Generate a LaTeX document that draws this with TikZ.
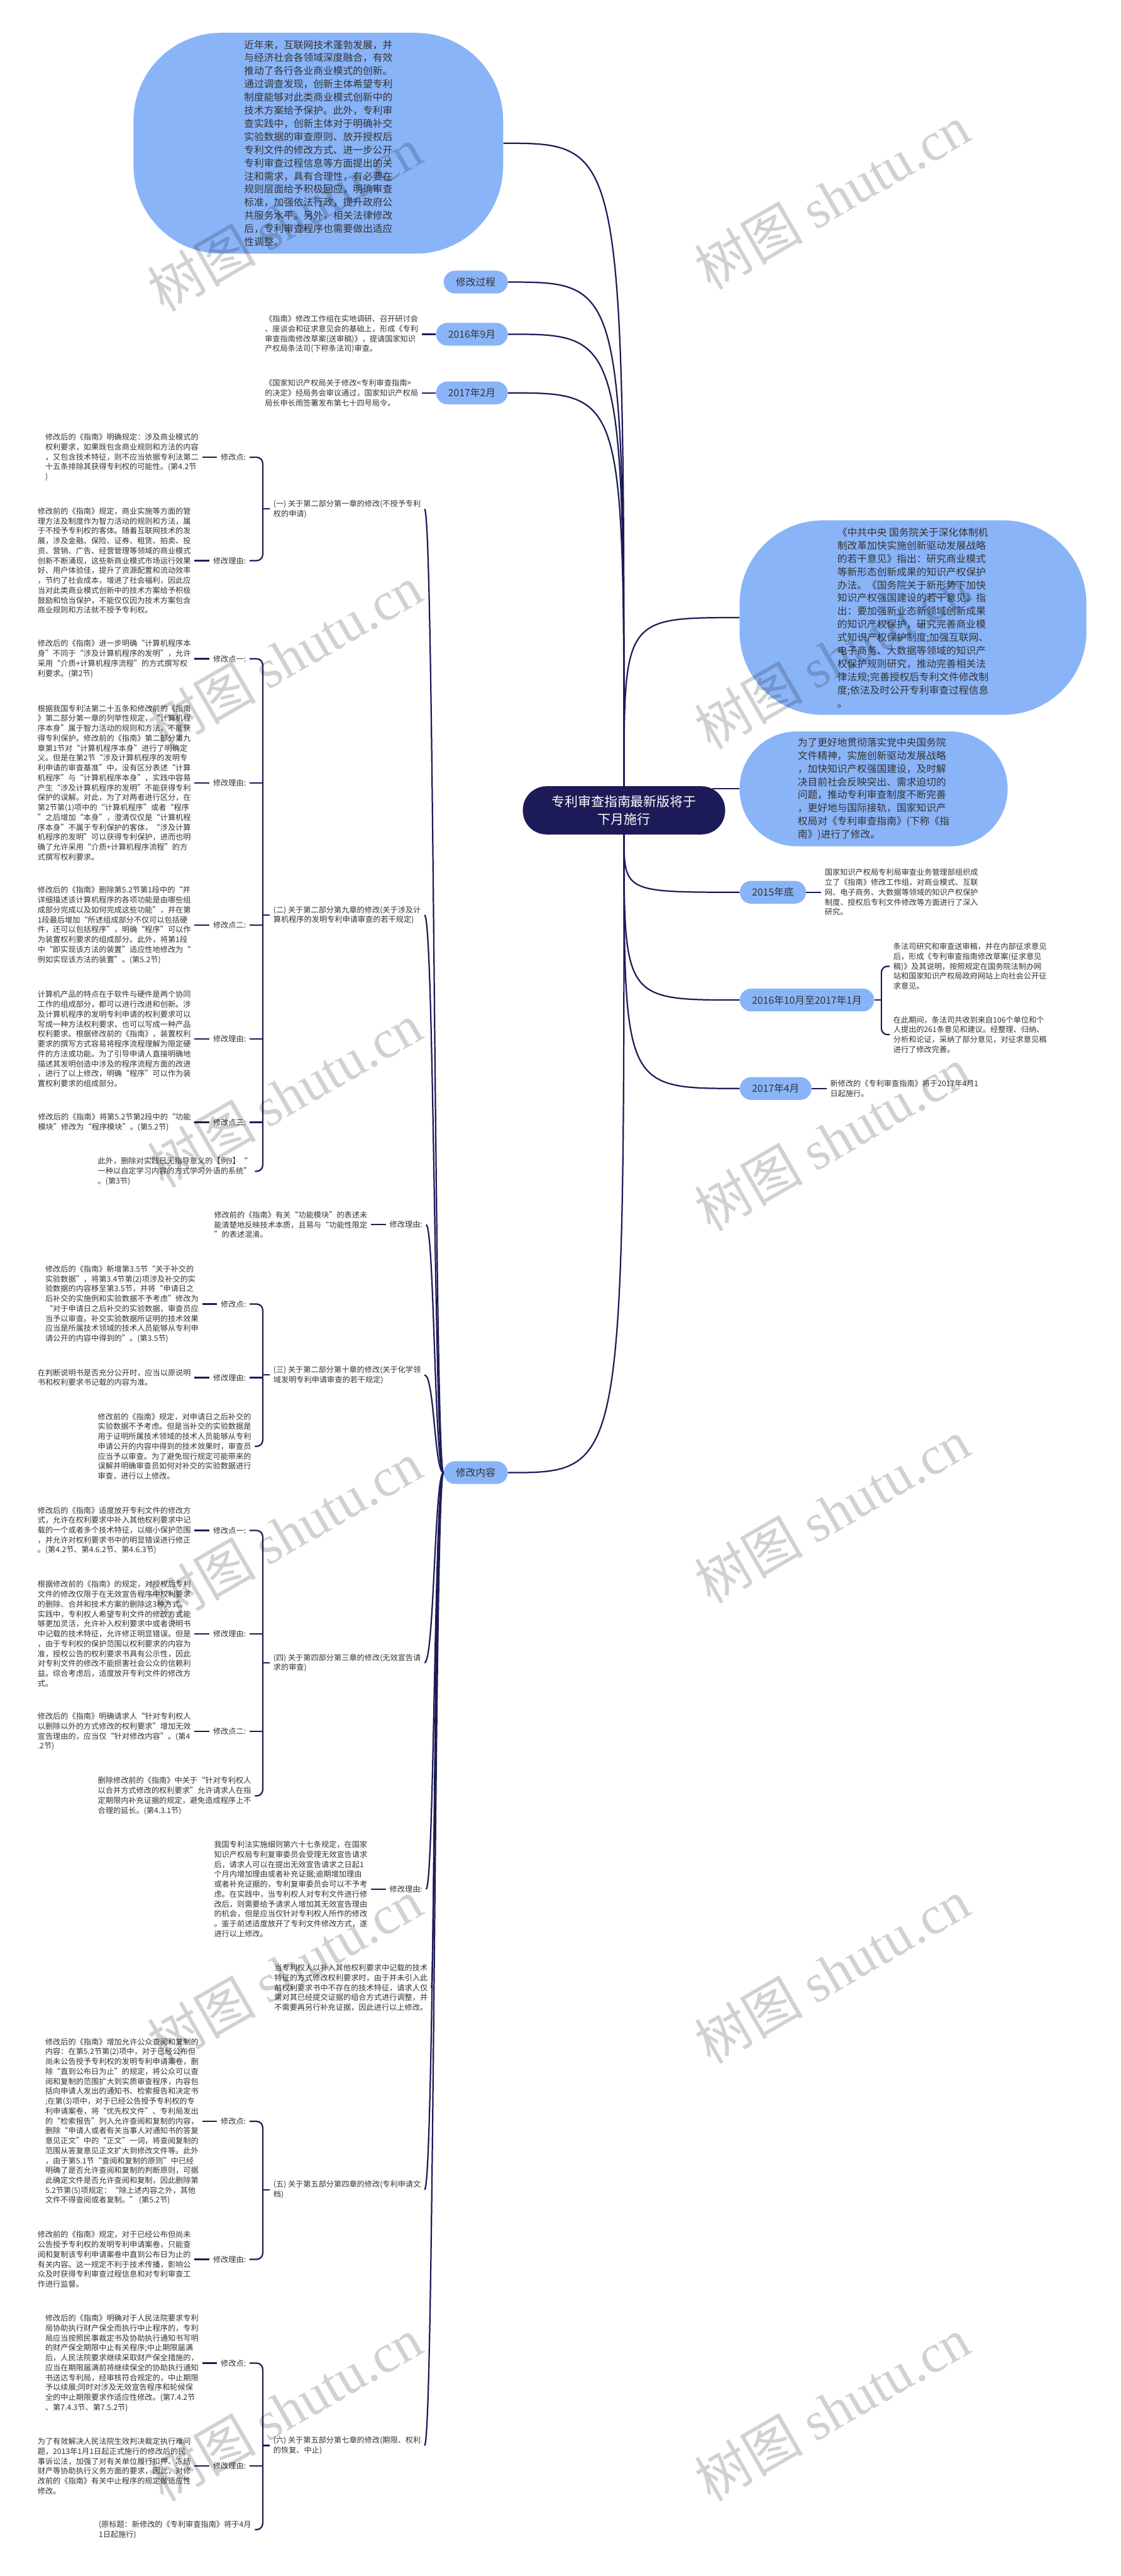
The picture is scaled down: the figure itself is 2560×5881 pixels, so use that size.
\documentclass[tikz,border=0pt]{standalone}
\usepackage{fontspec}
\setmainfont{Noto Sans CJK SC}
\newfontfamily\wmserif{Liberation Serif}
\usetikzlibrary{calc}
\definecolor{navyink}{RGB}{29,27,87}
\definecolor{skyfill}{RGB}{138,180,248}
\definecolor{textgray}{RGB}{51,51,51}
\tikzset{
  link/.style={draw=navyink, line width=1.6pt},
  rootbox/.style={fill=navyink, text=white, rounded corners=27pt, minimum width=231pt, minimum height=55pt, align=center, font=\fontsize{15}{20}\selectfont},
  topicbox/.style={fill=skyfill, text=textgray, rounded corners=13pt, minimum height=26pt, inner xsep=14pt, inner ysep=2pt, font=\fontsize{11.3}{14}\selectfont},
  blobbox/.style={fill=skyfill, text=textgray, align=left, font=\fontsize{11.3}{15}\selectfont},
  notebox/.style={text=textgray, align=left, inner sep=4pt, font=\fontsize{8.75}{11.3}\selectfont},
  tagbox/.style={text=textgray, align=left, inner sep=4pt, font=\fontsize{8.75}{11.3}\selectfont},
  wmtext/.style={rotate=30, text=black, text opacity=0.18, font=\fontsize{62}{62}\selectfont}
}
\begin{document}
\begin{tikzpicture}[x=0.5pt, y=-0.5pt]
\fill[white] (0,0) rectangle (2560,5881);
\useasboundingbox (0,0) rectangle (2560,5881);

% Root
\node[rootbox] (ctr) at (1425,1850) {专利审查指南最新版将于\\下月施行};
\coordinate (ctrR) at (1627,1801);

% Left upper branches
\node[blobbox, minimum width=422pt, minimum height=252pt, rounded corners=100pt] (bl) at (727,327) {近年来，互联网技术蓬勃发展，并\\与经济社会各领域深度融合，有效\\推动了各行各业商业模式的创新。\\通过调查发现，创新主体希望专利\\制度能够对此类商业模式创新中的\\技术方案给予保护。此外，专利审\\查实践中，创新主体对于明确补交\\实验数据的审查原则、放开授权后\\专利文件的修改方式、进一步公开\\专利审查过程信息等方面提出的关\\注和需求，具有合理性，有必要在\\规则层面给予积极回应，明确审查\\标准，加强依法行政，提升政府公\\共服务水平。另外，相关法律修改\\后，专利审查程序也需要做出适应\\性调整。};
\node[topicbox, anchor=east] (p1) at (1160,644) {修改过程};
\node[topicbox, anchor=east] (p2) at (1160,763) {2016年9月};
\node[topicbox, anchor=east] (p3) at (1160,897) {2017年2月};
\node[notebox, anchor=east] (p2t) at ([xshift=-16pt]p2.west) {《指南》修改工作组在实地调研、召开研讨会\\、座谈会和征求意见会的基础上，形成《专利\\审查指南修改草案(送审稿)》，提请国家知识\\产权局条法司(下称条法司)审查。};
\node[notebox, anchor=east] (p3t) at ([xshift=-16pt]p3.west) {《国家知识产权局关于修改<专利审查指南>\\的决定》经局务会审议通过，国家知识产权局\\局长申长雨签署发布第七十四号局令。};
\draw[link] (p2t.east) -- (p2.west);
\draw[link] (p3t.east) -- (p3.west);

% Right branches
\node[blobbox, minimum width=396pt, minimum height=222pt, rounded corners=95pt] (r1) at (2085,1410) {《中共中央 国务院关于深化体制机\\制改革加快实施创新驱动发展战略\\的若干意见》指出：研究商业模式\\等新形态创新成果的知识产权保护\\办法。《国务院关于新形势下加快\\知识产权强国建设的若干意见》指\\出：要加强新业态新领域创新成果\\的知识产权保护，研究完善商业模\\式知识产权保护制度;加强互联网、\\电子商务、大数据等领域的知识产\\权保护规则研究，推动完善相关法\\律法规;完善授权后专利文件修改制\\度;依法及时公开专利审查过程信息\\。};
\node[blobbox, minimum width=306pt, minimum height=131pt, rounded corners=65pt] (r2) at (1995,1801) {为了更好地贯彻落实党中央国务院\\文件精神，实施创新驱动发展战略\\，加快知识产权强国建设，及时解\\决目前社会反映突出、需求迫切的\\问题，推动专利审查制度不断完善\\，更好地与国际接轨，国家知识产\\权局对《专利审查指南》(下称《指\\南》)进行了修改。};
\node[topicbox, anchor=west] (q1) at (1689,2037) {2015年底};
\node[topicbox, anchor=west] (q2) at (1689,2283) {2016年10月至2017年1月};
\node[topicbox, anchor=west] (q3) at (1689,2485) {2017年4月};
\node[notebox, anchor=west] (q1t) at ([xshift=17pt]q1.east) {国家知识产权局专利局审查业务管理部组织成\\立了《指南》修改工作组，对商业模式、互联\\网、电子商务、大数据等领域的知识产权保护\\制度、授权后专利文件修改等方面进行了深入\\研究。};
\node[notebox, anchor=west] (q2a) at ($(q2.east)+(35,-77)$) {条法司研究和审查送审稿，并在内部征求意见\\后，形成《专利审查指南修改草案(征求意见\\稿)》及其说明，按照规定在国务院法制办网\\站和国家知识产权局政府网站上向社会公开征\\求意见。};
\node[notebox, anchor=west] (q2b) at ($(q2.east)+(35,79)$) {在此期间，条法司共收到来自106个单位和个\\人提出的261条意见和建议。经整理、归纳、\\分析和论证，采纳了部分意见，对征求意见稿\\进行了修改完善。};
\node[notebox, anchor=west] (q3t) at ([xshift=17pt]q3.east) {新修改的《专利审查指南》将于2017年4月1\\日起施行。};
\coordinate (bq) at ($(q2.east)+(16,0)$);
\draw[link] (q1.east) -- (q1t.west);
\draw[link] (q3.east) -- (q3t.west);
\draw[link] (q2.east) -- (bq);
\draw[link, rounded corners=7pt] (q2a.west) -| (bq) |- (q2b.west);

% Root connectors
\draw[link] (ctr.north) .. controls (ctr.north |- bl.east) .. (bl.east);
\draw[link] (ctr.north) .. controls (ctr.north |- p1.east) .. (p1.east);
\draw[link] (ctr.north) .. controls (ctr.north |- p2.east) .. (p2.east);
\draw[link] (ctr.north) .. controls (ctr.north |- p3.east) .. (p3.east);
\draw[link] (ctr.north) .. controls (ctr.north |- r1.west) .. (r1.west);
\draw[link] (ctrR) -- (r2.west);
\draw[link] (ctr.south) .. controls (ctr.south |- q1.west) .. (q1.west);
\draw[link] (ctr.south) .. controls (ctr.south |- q2.west) .. (q2.west);
\draw[link] (ctr.south) .. controls (ctr.south |- q3.west) .. (q3.west);

% Modification content
\node[topicbox, anchor=east] (mc) at (1160,3362) {修改内容};
\draw[link] (ctr.south) .. controls (ctr.south |- mc.east) .. (mc.east);

\node[tagbox, anchor=west] (s1) at (616,1162) {(一) 关于第二部分第一章的修改(不授予专利\\权的申请)};
\node[tagbox, anchor=west] (s2) at (616,2089) {(二) 关于第二部分第九章的修改(关于涉及计\\算机程序的发明专利申请审查的若干规定)};
\node[tagbox, anchor=west] (s3) at (616,3139) {(三) 关于第二部分第十章的修改(关于化学领\\域发明专利申请审查的若干规定)};
\node[tagbox, anchor=west] (s4) at (616,3796) {(四) 关于第四部分第三章的修改(无效宣告请\\求的审查)};
\node[tagbox, anchor=west] (s5) at (616,4999) {(五) 关于第五部分第四章的修改(专利申请文\\档)};
\node[tagbox, anchor=west] (s6) at (616,5583) {(六) 关于第五部分第七章的修改(期限、权利\\的恢复、中止)};

\node[tagbox, anchor=east] (m1) at (973,2796) {修改理由:};
\node[notebox, anchor=east] (m1t) at ([xshift=-17pt]m1.west) {修改前的《指南》有关“功能模块”的表述未\\能清楚地反映技术本质，且易与“功能性限定\\”的表述混淆。};
\node[tagbox, anchor=east] (m2) at (973,4313) {修改理由:};
\node[notebox, anchor=east] (m2t) at ([xshift=-17pt]m2.west) {我国专利法实施细则第六十七条规定，在国家\\知识产权局专利复审委员会受理无效宣告请求\\后，请求人可以在提出无效宣告请求之日起1\\个月内增加理由或者补充证据;逾期增加理由\\或者补充证据的，专利复审委员会可以不予考\\虑。在实践中，当专利权人对专利文件进行修\\改后，则需要给予请求人增加其无效宣告理由\\的机会，但是应当仅针对专利权人所作的修改\\。鉴于前述适度放开了专利文件修改方式，遂\\进行以上修改。};
\node[notebox, anchor=east] (m3) at (985,4538) {当专利权人以补入其他权利要求中记载的技术\\特征的方式修改权利要求时，由于并未引入此\\前权利要求书中不存在的技术特征，请求人仅\\需对其已经提交证据的组合方式进行调整，并\\不需要再另行补充证据，因此进行以上修改。};
\draw[link] (m1t.east) -- (m1.west);
\draw[link] (m2t.east) -- (m2.west);

\coordinate (sx) at (992,0);
\foreach \s in {s1,s2,m1,s3,s4,m2,m3,s5,s6}
  \draw[link] (mc.west) .. controls (mc.west -| sx) and (sx |- \s.east) .. (\s.east);

% (一)
\node[tagbox, anchor=east] (k11) at (570,1044) {修改点:};
\node[notebox, anchor=east] (n11) at ([xshift=-17pt]k11.west) {修改后的《指南》明确规定：涉及商业模式的\\权利要求，如果既包含商业规则和方法的内容\\，又包含技术特征，则不应当依据专利法第二\\十五条排除其获得专利权的可能性。(第4.2节\\)};
\node[tagbox, anchor=east] (k12) at (570,1280) {修改理由:};
\node[notebox, anchor=east] (n12) at ([xshift=-17pt]k12.west) {修改前的《指南》规定，商业实施等方面的管\\理方法及制度作为智力活动的规则和方法，属\\于不授予专利权的客体。随着互联网技术的发\\展，涉及金融、保险、证券、租赁、拍卖、投\\资、营销、广告、经营管理等领域的商业模式\\创新不断涌现，这些新商业模式市场运行效果\\好、用户体验佳，提升了资源配置和流动效率\\，节约了社会成本，增进了社会福利，因此应\\当对此类商业模式创新中的技术方案给予积极\\鼓励和恰当保护，不能仅仅因为技术方案包含\\商业规则和方法就不授予专利权。};

% (二)
\node[tagbox, anchor=east] (k21) at (570,1504) {修改点一:};
\node[notebox, anchor=east] (n21) at ([xshift=-17pt]k21.west) {修改后的《指南》进一步明确“计算机程序本\\身”不同于“涉及计算机程序的发明”，允许\\采用“介质+计算机程序流程”的方式撰写权\\利要求。(第2节)};
\node[tagbox, anchor=east] (k22) at (570,1787) {修改理由:};
\node[notebox, anchor=east] (n22) at ([xshift=-17pt]k22.west) {根据我国专利法第二十五条和修改前的《指南\\》第二部分第一章的列举性规定，“计算机程\\序本身”属于智力活动的规则和方法，不能获\\得专利保护。修改前的《指南》第二部分第九\\章第1节对“计算机程序本身”进行了明确定\\义。但是在第2节“涉及计算机程序的发明专\\利申请的审查基准”中，没有区分表述“计算\\机程序”与“计算机程序本身”，实践中容易\\产生“涉及计算机程序的发明”不能获得专利\\保护的误解。对此，为了对两者进行区分，在\\第2节第(1)项中的“计算机程序”或者“程序\\”之后增加“本身”，澄清仅仅是“计算机程\\序本身”不属于专利保护的客体，“涉及计算\\机程序的发明”可以获得专利保护，进而也明\\确了允许采用“介质+计算机程序流程”的方\\式撰写权利要求。};
\node[tagbox, anchor=east] (k23) at (570,2112) {修改点二:};
\node[notebox, anchor=east] (n23) at ([xshift=-17pt]k23.west) {修改后的《指南》删除第5.2节第1段中的“并\\详细描述该计算机程序的各项功能是由哪些组\\成部分完成以及如何完成这些功能”，并在第\\1段最后增加“所述组成部分不仅可以包括硬\\件，还可以包括程序”，明确“程序”可以作\\为装置权利要求的组成部分。此外，将第1段\\中“即实现该方法的装置”适应性地修改为“\\例如实现该方法的装置”。(第5.2节)};
\node[tagbox, anchor=east] (k24) at (570,2372) {修改理由:};
\node[notebox, anchor=east] (n24) at ([xshift=-17pt]k24.west) {计算机产品的特点在于软件与硬件是两个协同\\工作的组成部分，都可以进行改进和创新。涉\\及计算机程序的发明专利申请的权利要求可以\\写成一种方法权利要求，也可以写成一种产品\\权利要求。根据修改前的《指南》，装置权利\\要求的撰写方式容易将程序流程理解为限定硬\\件的方法或功能。为了引导申请人直接明确地\\描述其发明创造中涉及的程序流程方面的改进\\，进行了以上修改，明确“程序”可以作为装\\置权利要求的组成部分。};
\node[tagbox, anchor=east] (k25) at (570,2562) {修改点三:};
\node[notebox, anchor=east] (n25) at ([xshift=-17pt]k25.west) {修改后的《指南》将第5.2节第2段中的“功能\\模块”修改为“程序模块”。(第5.2节)};
\node[notebox, anchor=east] (k26) at (582,2674) {此外，删除对实践已无指导意义的【例9】“\\一种以自定学习内容的方式学习外语的系统”\\。(第3节)};

% (三)
\node[tagbox, anchor=east] (k31) at (570,2977) {修改点:};
\node[notebox, anchor=east] (n31) at ([xshift=-17pt]k31.west) {修改后的《指南》新增第3.5节“关于补交的\\实验数据”，将第3.4节第(2)项涉及补交的实\\验数据的内容移至第3.5节，并将“申请日之\\后补交的实施例和实验数据不予考虑”修改为\\“对于申请日之后补交的实验数据，审查员应\\当予以审查。补交实验数据所证明的技术效果\\应当是所属技术领域的技术人员能够从专利申\\请公开的内容中得到的”。(第3.5节)};
\node[tagbox, anchor=east] (k32) at (570,3145) {修改理由:};
\node[notebox, anchor=east] (n32) at ([xshift=-17pt]k32.west) {在判断说明书是否充分公开时，应当以原说明\\书和权利要求书记载的内容为准。};
\node[notebox, anchor=east] (k33) at (582,3302) {修改前的《指南》规定，对申请日之后补交的\\实验数据不予考虑。但是当补交的实验数据是\\用于证明所属技术领域的技术人员能够从专利\\申请公开的内容中得到的技术效果时，审查员\\应当予以审查。为了避免现行规定可能带来的\\误解并明确审查员如何对补交的实验数据进行\\审查，进行以上修改。};

% (四)
\node[tagbox, anchor=east] (k41) at (570,3494) {修改点一:};
\node[notebox, anchor=east] (n41) at ([xshift=-17pt]k41.west) {修改后的《指南》适度放开专利文件的修改方\\式，允许在权利要求中补入其他权利要求中记\\载的一个或者多个技术特征，以缩小保护范围\\，并允许对权利要求书中的明显错误进行修正\\。(第4.2节、第4.6.2节、第4.6.3节)};
\node[tagbox, anchor=east] (k42) at (570,3730) {修改理由:};
\node[notebox, anchor=east] (n42) at ([xshift=-17pt]k42.west) {根据修改前的《指南》的规定，对授权后专利\\文件的修改仅限于在无效宣告程序中权利要求\\的删除、合并和技术方案的删除这3种方式。\\实践中，专利权人希望专利文件的修改方式能\\够更加灵活，允许补入权利要求中或者说明书\\中记载的技术特征，允许修正明显错误。但是\\，由于专利权的保护范围以权利要求的内容为\\准，授权公告的权利要求书具有公示性，因此\\对专利文件的修改不能损害社会公众的信赖利\\益。综合考虑后，适度放开专利文件的修改方\\式。};
\node[tagbox, anchor=east] (k43) at (570,3953) {修改点二:};
\node[notebox, anchor=east] (n43) at ([xshift=-17pt]k43.west) {修改后的《指南》明确请求人“针对专利权人\\以删除以外的方式修改的权利要求”增加无效\\宣告理由的，应当仅“针对修改内容”。(第4\\.2节)};
\node[notebox, anchor=east] (k44) at (582,4100) {删除修改前的《指南》中关于“针对专利权人\\以合并方式修改的权利要求”允许请求人在指\\定期限内补充证据的规定，避免造成程序上不\\合理的延长。(第4.3.1节)};

% (五)
\node[tagbox, anchor=east] (k51) at (570,4843) {修改点:};
\node[notebox, anchor=east] (n51) at ([xshift=-17pt]k51.west) {修改后的《指南》增加允许公众查阅和复制的\\内容：在第5.2节第(2)项中，对于已经公布但\\尚未公告授予专利权的发明专利申请案卷，删\\除“直到公布日为止”的规定，将公众可以查\\阅和复制的范围扩大到实质审查程序，内容包\\括向申请人发出的通知书、检索报告和决定书\\;在第(3)项中，对于已经公告授予专利权的专\\利申请案卷，将“优先权文件”、专利局发出\\的“检索报告”列入允许查阅和复制的内容，\\删除“申请人或者有关当事人对通知书的答复\\意见正文”中的“正文”一词，将查阅复制的\\范围从答复意见正文扩大到修改文件等。此外\\，由于第5.1节“查阅和复制的原则”中已经\\明确了是否允许查阅和复制的判断原则，可据\\此确定文件是否允许查阅和复制，因此删除第\\5.2节第(5)项规定：“除上述内容之外，其他\\文件不得查阅或者复制。” (第5.2节)};
\node[tagbox, anchor=east] (k52) at (570,5158) {修改理由:};
\node[notebox, anchor=east] (n52) at ([xshift=-17pt]k52.west) {修改前的《指南》规定，对于已经公布但尚未\\公告授予专利权的发明专利申请案卷，只能查\\阅和复制该专利申请案卷中直到公布日为止的\\有关内容。这一规定不利于技术传播，影响公\\众及时获得专利审查过程信息和对专利审查工\\作进行监督。};

% (六)
\node[tagbox, anchor=east] (k61) at (570,5395) {修改点:};
\node[notebox, anchor=east] (n61) at ([xshift=-17pt]k61.west) {修改后的《指南》明确对于人民法院要求专利\\局协助执行财产保全而执行中止程序的，专利\\局应当按照民事裁定书及协助执行通知书写明\\的财产保全期限中止有关程序;中止期限届满\\后，人民法院要求继续采取财产保全措施的，\\应当在期限届满前将继续保全的协助执行通知\\书送达专利局，经审核符合规定的，中止期限\\予以续展;同时对涉及无效宣告程序和轮候保\\全的中止期限要求作适应性修改。(第7.4.2节\\、第7.4.3节、第7.5.2节)};
\node[tagbox, anchor=east] (k62) at (570,5630) {修改理由:};
\node[notebox, anchor=east] (n62) at ([xshift=-17pt]k62.west) {为了有效解决人民法院生效判决裁定执行难问\\题，2013年1月1日起正式施行的修改后的民\\事诉讼法，加强了对有关单位履行扣押、冻结\\财产等协助执行义务方面的要求，因此，对修\\改前的《指南》有关中止程序的规定做适应性\\修改。};
\node[notebox, anchor=east] (k63) at (582,5775) {(原标题：新修改的《专利审查指南》将于4月\\1日起施行)};

% text to tag links
\foreach \k in {11,12,21,22,23,24,25,31,32,41,42,43,51,52,61,62}
  \draw[link] (n\k.east) -- (k\k.west);

% brackets
\foreach \s in {1,...,6}
  \coordinate (b\s) at ($(s\s.west)+(-16,0)$);
\foreach \s in {1,...,6}
  \draw[link] (s\s.west) -- (b\s);
\draw[link, rounded corners=7pt] (k11.east) -| (b1) |- (k12.east);
\draw[link, rounded corners=7pt] (k21.east) -| (b2) |- (k26.east);
\draw[link, rounded corners=7pt] (k31.east) -| (b3) |- (k33.east);
\draw[link, rounded corners=7pt] (k41.east) -| (b4) |- (k44.east);
\draw[link, rounded corners=7pt] (k51.east) -| (b5) |- (k52.east);
\draw[link, rounded corners=7pt] (k61.east) -| (b6) |- (k63.east);
\foreach \k/\b in {k22/b2,k23/b2,k24/b2,k25/b2,k32/b3,k42/b4,k43/b4,k62/b6}
  \draw[link] (\k.east) -- (\k.east -| \b);

% watermarks
\foreach \y in {500,1500,2500,3500,4500,5500}
  \node[wmtext] at (650,\y) {树图 {\wmserif shutu.cn}};
\foreach \y in {450,1500,2600,3450,4500,5500}
  \node[wmtext] at (1900,\y) {树图 {\wmserif shutu.cn}};
\end{tikzpicture}
\end{document}
